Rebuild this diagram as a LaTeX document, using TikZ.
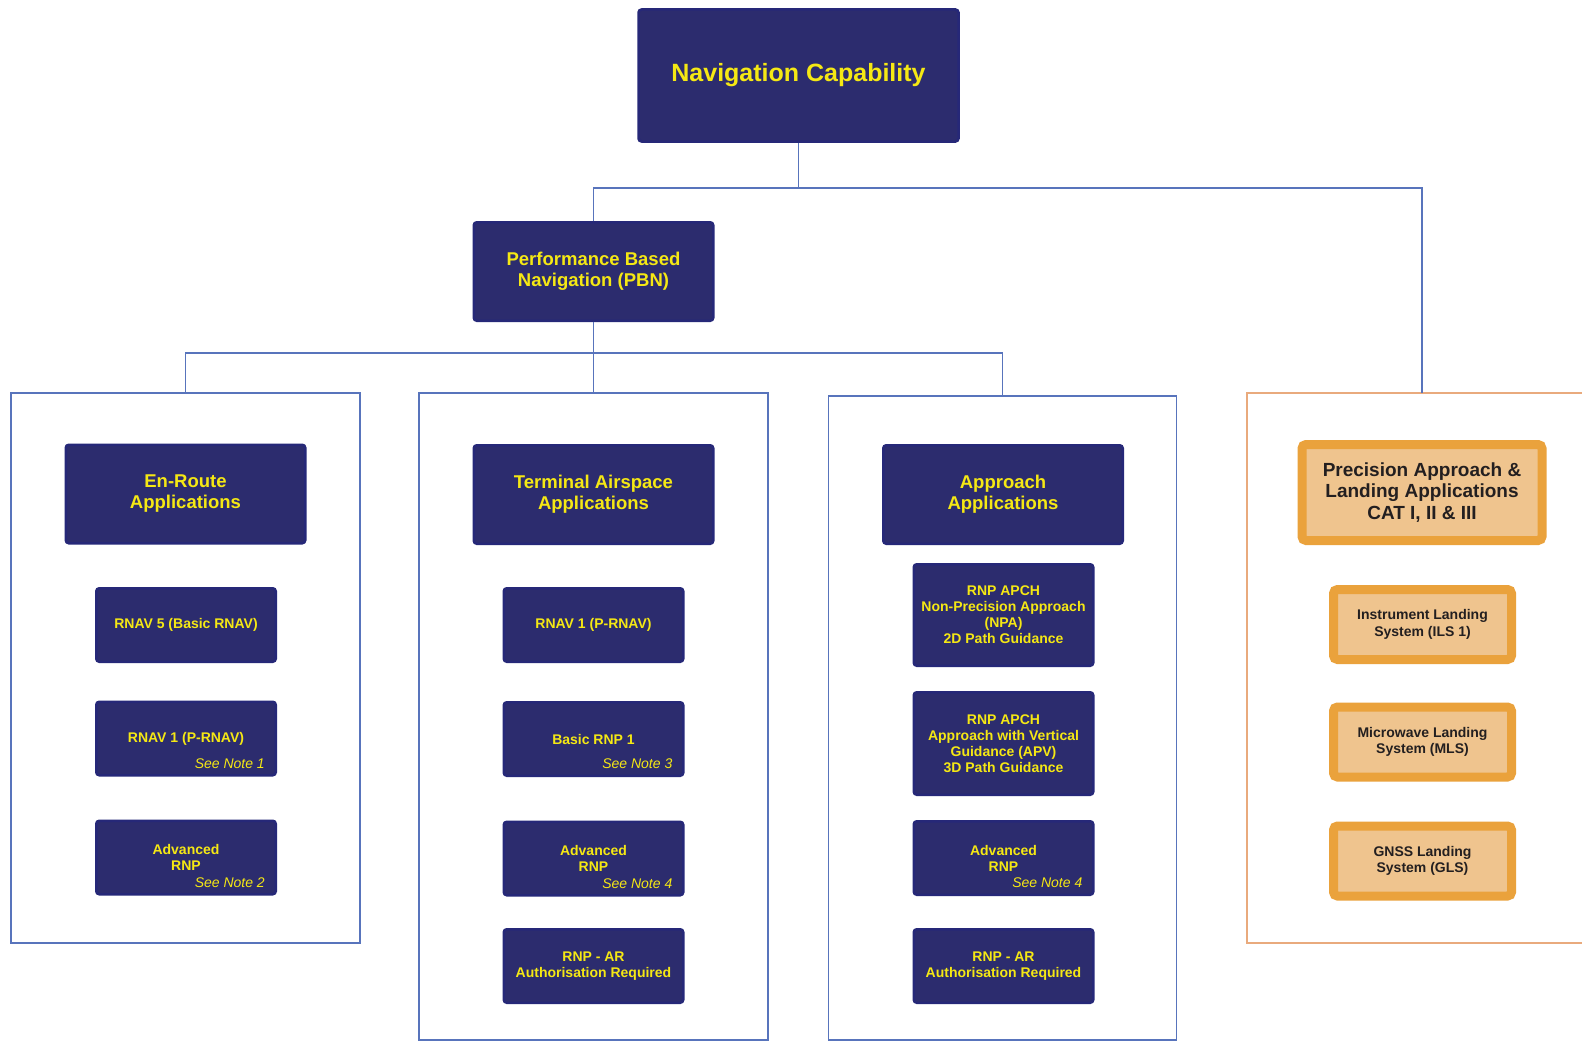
\documentclass[tikz,border=0pt]{standalone}
\usepackage{fontspec}
\setmainfont{Liberation Sans}
\usetikzlibrary{calc}
\definecolor{navyfill}{RGB}{44,44,110}
\definecolor{navyedge}{RGB}{38,40,120}
\definecolor{ylw}{RGB}{245,232,20}
\definecolor{connc}{RGB}{88,116,188}
\definecolor{orfill}{RGB}{239,196,142}
\definecolor{oredge}{RGB}{234,162,60}
\definecolor{orcol}{RGB}{233,170,125}
\definecolor{dtext}{RGB}{35,31,32}
\tikzset{
 navybox/.style={draw=navyedge, fill=navyfill, line width=2.5pt, rounded corners=3pt, text=ylw, align=center, inner sep=0pt, minimum width=179.5pt, minimum height=73.5pt, font=\bfseries\fontsize{14}{16}\selectfont},
 headbox/.style={navybox, minimum width=239.5pt, minimum height=98.5pt, font=\bfseries\fontsize{18.5}{21}\selectfont},
 orbox/.style={draw=oredge, fill=orfill, line width=9pt, rounded corners=4pt, text=dtext, align=center, inner sep=0pt, minimum width=178pt, minimum height=70pt, font=\bfseries\fontsize{14}{16.5}\selectfont},
 orhead/.style={orbox, minimum width=240pt, minimum height=96pt, font=\bfseries\fontsize{19}{21.5}\selectfont},
 colbox/.style={draw=connc, line width=1.5pt, inner sep=0pt, outer sep=0pt},
 orcolbox/.style={colbox, draw=orcol},
 notetxt/.style={text=ylw, font=\itshape\fontsize{14}{16}\selectfont, inner sep=0pt, anchor=base east, xshift=-12pt, yshift=8.5pt},
 link/.style={draw=connc, line width=1.5pt},
}
\begin{document}
\begin{tikzpicture}[x=1pt,y=-1pt]
\clip (0,0) rectangle (1582,1041);
\fill[white] (0,0) rectangle (1582,1041);

% column frames
\node[colbox, minimum width=349pt, minimum height=550pt] (c1) at (185.5,668) {};
\node[colbox, minimum width=349pt, minimum height=647pt] (c2) at (593.5,716.5) {};
\node[colbox, minimum width=348pt, minimum height=644pt] (c3) at (1002.5,718) {};
\node[orcolbox, minimum width=350pt, minimum height=550pt] (c4) at (1422,668) {};

% top levels
\node[navybox, minimum width=320pt, minimum height=132pt, font=\bfseries\fontsize{25}{29}\selectfont] (nav) at (798.5,75.5) {Navigation Capability};
\node[headbox] (pbn) at (593.5,271.5) {Performance Based\\Navigation (PBN)};

% headings
\node[headbox] (enh) at (185.5,494) {En-Route\\Applications};
\node[headbox] (teh) at (593.5,494.5) {Terminal Airspace\\Applications};
\node[headbox] (aph) at (1003,494.5) {Approach\\Applications};
\node[orhead] (prh) at (1422,492.5) {Precision Approach \&\\Landing Applications\\CAT I, II \& III};

% en-route
\node[navybox] (e1) at (186,625) {RNAV 5 (Basic RNAV)};
\node[navybox] (e2) at (186,738.5) {RNAV 1 (P-RNAV)};
\node[notetxt] (e2n) at (e2.south east) {See Note 1};
\node[navybox] (e3) at (186,857.5) {Advanced\\RNP};
\node[notetxt] (e3n) at (e3.south east) {See Note 2};

% terminal
\node[navybox] (t1) at (593.5,625) {RNAV 1 (P-RNAV)};
\node[navybox] (t2) at (593.5,739) {Basic RNP 1};
\node[notetxt] (t2n) at (t2.south east) {See Note 3};
\node[navybox] (t3) at (593.5,858.5) {Advanced\\RNP};
\node[notetxt] (t3n) at (t3.south east) {See Note 4};
\node[navybox] (t4) at (593.5,966) {RNP - AR\\Authorisation Required};

% approach
\node[navybox, minimum height=101.5pt] (a1) at (1003.5,615) {RNP APCH\\Non-Precision Approach\\(NPA)\\2D Path Guidance};
\node[navybox, minimum height=102.5pt] (a2) at (1003.5,743.5) {RNP APCH\\Approach with Vertical\\Guidance (APV)\\3D Path Guidance};
\node[navybox] (a3) at (1003.5,858) {Advanced\\RNP};
\node[notetxt] (a3n) at (a3.south east) {See Note 4};
\node[navybox] (a4) at (1003.5,966) {RNP - AR\\Authorisation Required};

% precision
\node[orbox] (p1) at (1422.5,624.5) {Instrument Landing\\System (ILS 1)};
\node[orbox] (p2) at (1422.5,742) {Microwave Landing\\System (MLS)};
\node[orbox] (p3) at (1422.5,861) {GNSS Landing\\System (GLS)};

% connectors
\coordinate (j1) at (798.5,188);
\coordinate (j2) at (593.5,353);
\draw[link] (nav.south) -- (j1);
\draw[link] (pbn.north) |- (j1);
\draw[link] (j1) -| (c4.north);
\draw[link] (pbn.south) -- (c2.north);
\draw[link] (j2) -| (c1.north);
\draw[link] (j2) -| (c3.north);
\end{tikzpicture}
\end{document}
